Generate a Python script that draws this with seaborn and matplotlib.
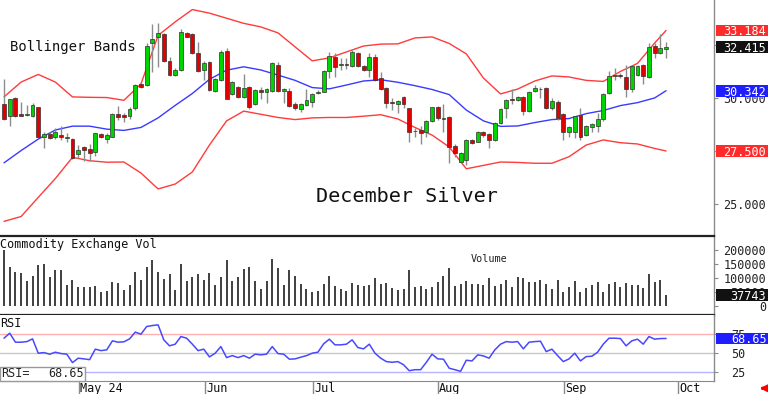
import numpy as np
import matplotlib
matplotlib.use("Agg")
import matplotlib.pyplot as plt
import matplotlib.transforms as mtransforms
from matplotlib.patches import Rectangle
import seaborn as sns

# daily candles, December silver (one entry per trading day)
opens = [29.72, 29.15, 29.99, 29.24, 29.20, 29.15, 29.56, 28.15, 28.29, 28.17,
         28.25, 28.12, 28.05, 27.36, 27.69, 27.59, 27.47, 28.32, 28.07, 28.17,
         29.25, 29.18, 29.15, 29.51, 30.66, 30.61, 32.58, 32.89, 33.02, 31.75,
         31.08, 31.32, 33.05, 33.00, 32.14, 31.32, 31.71, 30.34, 30.85, 32.23,
         30.19, 30.53, 30.06, 30.53, 29.70, 30.38, 30.30, 30.34, 31.56, 30.34,
         30.34, 29.70, 29.47, 29.67, 29.83, 30.22, 30.30, 31.27, 31.92, 31.54,
         31.58, 31.52, 32.14, 31.52, 31.32, 31.95, 30.93, 30.46, 29.83, 29.72,
         30.06, 29.51, 28.42, 28.49, 28.41, 28.93, 29.59, 29.02, 29.12, 27.75,
         27.00, 27.08, 28.02, 27.94, 28.41, 28.30, 28.02, 28.81, 29.55, 29.95,
         29.91, 30.06, 29.40, 30.34, 30.41, 30.46, 29.51, 29.83, 29.25, 28.38,
         28.40, 29.20, 28.25, 28.65, 28.68, 29.00, 30.22, 31.02, 31.06, 31.00,
         30.41, 31.08, 31.56, 30.98, 32.45, 32.11, 32.30]
highs = [30.88, 29.96, 30.03, 29.83, 29.67, 29.75, 29.59, 28.41, 28.41, 28.57,
         28.68, 28.36, 28.10, 27.78, 27.74, 27.83, 28.36, 28.36, 28.36, 29.28,
         29.62, 29.31, 29.59, 30.65, 30.77, 32.61, 33.48, 33.52, 33.08, 31.95,
         31.40, 33.24, 33.13, 33.08, 32.66, 31.75, 31.75, 30.93, 32.26, 32.37,
         30.80, 30.58, 31.12, 30.58, 30.42, 30.50, 30.45, 31.71, 31.70, 30.45,
         30.45, 29.83, 29.78, 30.41, 30.24, 30.36, 31.31, 32.18, 32.11, 31.87,
         31.87, 32.26, 32.18, 31.56, 32.11, 32.05, 31.24, 30.50, 29.98, 29.90,
         30.10, 29.55, 28.57, 28.68, 28.97, 29.59, 29.62, 29.72, 29.16, 27.83,
         27.43, 28.06, 28.06, 28.45, 28.45, 28.35, 28.85, 29.51, 29.96, 30.41,
         30.10, 30.10, 30.34, 30.61, 30.52, 30.50, 29.98, 29.91, 29.28, 28.66,
         29.16, 29.51, 28.72, 28.81, 29.28, 30.23, 31.27, 31.43, 31.16, 31.56,
         31.55, 31.56, 31.60, 32.61, 32.61, 33.00, 32.66]
lows = [28.95, 28.68, 29.12, 29.15, 29.15, 29.12, 28.16, 27.66, 28.05, 28.05,
        28.02, 27.94, 27.14, 27.16, 27.03, 27.03, 27.26, 28.10, 27.89, 28.15,
        28.96, 28.88, 29.00, 29.43, 30.46, 30.57, 31.24, 31.48, 31.71, 31.04,
        31.04, 31.29, 32.86, 32.08, 31.24, 30.85, 30.33, 30.30, 30.80, 29.94,
        30.15, 30.02, 29.99, 29.47, 29.66, 29.95, 29.76, 30.30, 30.30, 29.75,
        29.58, 29.43, 29.36, 29.62, 29.57, 30.17, 30.26, 30.93, 31.00, 31.32,
        31.36, 31.48, 31.47, 31.28, 31.00, 30.80, 30.38, 29.51, 29.43, 29.28,
        29.51, 27.94, 28.15, 27.83, 28.17, 28.88, 28.98, 28.41, 26.92, 27.23,
        26.96, 26.84, 27.82, 27.90, 28.16, 27.63, 27.98, 28.77, 29.06, 29.72,
        29.85, 29.20, 29.36, 30.30, 29.98, 29.47, 29.43, 28.96, 28.02, 28.15,
        28.13, 28.02, 28.21, 28.41, 28.41, 28.90, 30.18, 30.85, 30.92, 30.03,
        30.30, 31.04, 30.66, 30.94, 31.87, 32.07, 31.87]
closes = [29.00, 29.94, 29.15, 29.17, 29.25, 29.67, 28.17, 28.30, 28.10, 28.40,
          28.17, 28.14, 27.17, 27.55, 27.53, 27.42, 28.33, 28.15, 28.25, 29.25,
          29.09, 29.09, 29.47, 30.61, 30.50, 32.45, 32.78, 33.05, 31.75, 31.08,
          31.32, 33.10, 32.89, 32.11, 31.29, 31.67, 30.38, 30.88, 32.18, 29.95,
          30.75, 30.06, 30.46, 29.59, 30.38, 30.28, 30.41, 31.67, 30.34, 30.41,
          29.62, 29.51, 29.70, 29.91, 30.19, 30.30, 31.27, 31.98, 31.48, 31.58,
          31.54, 32.18, 31.51, 31.32, 31.95, 30.85, 30.41, 29.78, 29.75, 29.86,
          29.72, 28.41, 28.46, 28.33, 28.93, 29.56, 29.04, 29.06, 27.70, 27.39,
          27.39, 28.02, 27.86, 28.41, 28.25, 28.02, 28.81, 29.47, 29.91, 29.90,
          30.03, 29.40, 30.30, 30.46, 30.43, 29.51, 29.86, 29.04, 28.41, 28.62,
          29.15, 28.17, 28.68, 28.77, 29.00, 30.19, 31.04, 31.06, 31.02, 30.41,
          31.51, 31.51, 31.04, 32.42, 32.14, 32.34, 32.415]

volume = [202000, 140000, 123000, 117000, 88000, 109000, 146000, 150000, 103000, 130000,
          128000, 76000, 93000, 66000, 68000, 68000, 70000, 51000, 54000, 86000,
          81000, 58000, 74000, 121000, 93000, 139000, 165000, 123000, 98000, 113000,
          58000, 152000, 91000, 103000, 115000, 94000, 119000, 76000, 104000, 164000,
          88000, 104000, 134000, 140000, 91000, 60000, 91000, 168000, 135000, 76000,
          130000, 107000, 79000, 60000, 48000, 54000, 79000, 106000, 72000, 60000,
          54000, 81000, 74000, 72000, 74000, 101000, 79000,
          82000, 64000, 58000, 60000, 128000, 66000, 70000, 60000, 68000, 85000,
          107000, 135000, 70000, 79000, 88000, 79000, 79000, 74000, 101000, 70000,
          79000, 94000, 66000, 103000, 101000, 85000, 85000, 94000, 79000, 61000,
          94000, 48000, 66000, 91000, 51000, 64000, 76000, 85000, 51000, 79000,
          85000, 66000, 82000, 76000, 74000, 64000, 115000, 85000, 94000, 37743]

rsi = [69.0, 75.6, 63.7, 63.7, 64.5, 68.1, 49.2, 50.0, 47.9, 50.5,
       48.7, 47.9, 36.8, 42.6, 41.7, 40.7, 54.5, 52.6, 53.6, 65.5,
       63.7, 64.2, 68.1, 77.0, 74.3, 84.4, 85.7, 86.6, 66.8, 58.9,
       61.1, 71.2, 69.0, 61.1, 52.6, 54.5, 44.3, 49.2, 57.9, 43.4,
       46.0, 43.4, 46.0, 42.6, 47.9, 47.0, 47.9, 57.9, 48.7, 47.9,
       41.3, 41.7, 43.9, 46.0, 49.2, 50.5, 61.5, 67.7, 60.2, 60.2,
       61.1, 66.8, 56.6, 54.9, 61.1, 49.2, 42.6,
       38.1, 37.2, 38.1, 34.0, 26.1, 27.4, 27.4, 37.2, 47.9, 41.7,
       41.3, 29.4, 27.4, 25.3, 39.9, 39.0, 47.0, 45.6, 42.6, 53.6,
       61.1, 64.5, 63.7, 64.5, 54.9, 63.7, 64.5, 65.0, 51.3, 54.5,
       46.0, 38.1, 41.7, 49.2, 39.0, 44.7, 45.2, 50.5, 61.1, 69.0,
       69.0, 68.5, 58.9, 65.5, 67.7, 61.1, 71.2, 67.7, 68.5, 68.65]

# bollinger bands, read every third bar
band_idx = [0, 3, 6, 9, 12, 15, 18, 21, 24, 27, 30, 33, 36, 39, 42, 45, 48, 51, 54, 57,
            60, 63, 66, 69, 72, 75, 78, 81, 84, 87, 90, 93, 96, 99, 102, 105, 108, 111, 114, 116]
bb_upper = [30.05, 30.75, 31.11, 30.75, 30.05, 30.03, 30.02, 29.89, 30.66, 32.95,
            33.59, 34.17, 34.00, 33.76, 33.52, 33.35, 33.07, 32.41, 31.75, 31.89,
            32.17, 32.45, 32.54, 32.55, 32.83, 32.88, 32.57, 32.08, 30.94, 30.19,
            30.42, 30.80, 31.04, 30.99, 30.83, 30.78, 31.25, 31.63, 32.59, 33.184]
bb_mid = [26.94, 27.52, 28.06, 28.49, 28.67, 28.67, 28.53, 28.47, 28.61, 29.06,
          29.65, 30.21, 30.88, 31.31, 31.47, 31.32, 31.08, 30.83, 30.49, 30.43,
          30.61, 30.80, 30.86, 30.74, 30.58, 30.40, 30.16, 29.43, 28.92, 28.66,
          28.68, 28.84, 28.98, 29.03, 29.26, 29.41, 29.64, 29.78, 30.00, 30.342]
bb_lower = [24.18, 24.41, 25.31, 26.20, 27.20, 27.04, 26.97, 26.98, 26.46, 25.71,
            25.94, 26.51, 27.78, 28.92, 29.38, 29.23, 29.08, 28.98, 29.06, 29.08,
            29.08, 29.14, 29.21, 29.01, 28.61, 28.25, 27.69, 26.66, 26.82, 26.98,
            26.96, 26.92, 26.92, 27.23, 27.78, 28.02, 27.89, 27.83, 27.62, 27.50]

month_pos = [13.1, 35.2, 54.1, 76.0, 98.1, 118.1]
month_labels = ["May 24", "Jun", "Jul", "Aug", "Sep", "Oct"]

price_ticks = [25.0, 30.0]
vol_ticks = [0, 50000, 100000, 150000, 200000]
rsi_ticks = [25, 50, 75]

sns.set_style("white")
plt.rcParams["font.family"] = ["DejaVu Sans Mono", "DejaVu Sans"]

W, H = 768, 394
fig = plt.figure(figsize=(W / 100, H / 100), dpi=100)


def px_axes(x0, y0, x1, y1):
    return fig.add_axes([x0 / W, 1 - y1 / H, (x1 - x0) / W, (y1 - y0) / H])


ax_p = px_axes(0, 0, 714, 236)
ax_v = px_axes(0, 236, 714, 315)
ax_r = px_axes(0, 315, 714, 380.7)

ax_p.set_ylim(23.49, 34.62)
ax_v.set_ylim(-34200, 252600)
ax_r.set_ylim(12.9, 99.6)

GRID = "#8a8a8a"
for ax in (ax_p, ax_v, ax_r):
    ax.set_xlim(-0.7, 124.4)
    ax.set_facecolor("white")
    for s in ("left", "top", "bottom"):
        ax.spines[s].set_visible(False)
    ax.spines["right"].set_color(GRID)
    ax.spines["right"].set_linewidth(1)
    ax.tick_params(axis="y", which="both", direction="out", length=3, width=0.8,
                   color=GRID, left=False, right=True, labelleft=False, labelright=False)
    ax.tick_params(axis="x", bottom=False, labelbottom=False)

ax_v.spines["top"].set_visible(True)
ax_v.spines["bottom"].set_visible(True)
for s in ("top", "bottom"):
    ax_v.spines[s].set_color("#222222")
    ax_v.spines[s].set_linewidth(1.6)
ax_r.spines["bottom"].set_visible(True)
ax_r.spines["bottom"].set_color(GRID)

# --- price panel: candles + bands
idx = np.arange(len(closes))
o, h, l, c = (np.array(a) for a in (opens, highs, lows, closes))
up = c >= o
sns.lineplot(x=band_idx, y=bb_upper, ax=ax_p, color="#ff3b3b", linewidth=1, zorder=1)
sns.lineplot(x=band_idx, y=bb_lower, ax=ax_p, color="#ff3b3b", linewidth=1, zorder=1)
sns.lineplot(x=band_idx, y=bb_mid, ax=ax_p, color="#3a3aff", linewidth=1, zorder=1)
ax_p.vlines(idx, l, h, color="#8c8c8c", linewidth=1, zorder=2)
ax_p.bar(idx, np.maximum(np.abs(c - o), 0.03), bottom=np.minimum(o, c), width=0.68,
         color=np.where(up, "#00d400", "#e00000"), edgecolor="#303030", linewidth=0.5, zorder=3)
ax_p.set_yticks([25.0, 27.5, 30.0, 32.5])
ax_p.set_xlabel("")
ax_p.set_ylabel("")

ax_p.text(10 / 714, 0.784, "Bollinger Bands", transform=ax_p.transAxes, fontsize=10,
          va="baseline", color="#111111")
ax_p.text(316 / 714, 0.145, "December Silver", transform=ax_p.transAxes, fontsize=14.5,
          va="baseline", color="#111111")

# --- volume panel
ax_v.vlines(idx, 0, volume, color="#303030", linewidth=1.3)
ax_v.set_yticks(vol_ticks)
ax_v.text(0, 0.852, "Commodity Exchange Vol", transform=ax_v.transAxes, fontsize=8.5,
          va="baseline", color="#111111")
ax_v.text(470.7 / 714, 0.675, "Volume", transform=ax_v.transAxes, fontsize=7.3,
          va="baseline", color="#222222")

# --- RSI panel
ax_r.axhline(75, color="#ffb0b0", linewidth=1, zorder=1)
ax_r.axhline(50, color="#c8c8c8", linewidth=1, zorder=1)
ax_r.axhline(25, color="#b4b4ff", linewidth=1, zorder=1)
sns.lineplot(x=idx, y=rsi, ax=ax_r, color="#4848ff", linewidth=1.1, zorder=2)
ax_r.set_yticks(rsi_ticks)
ax_r.set_xlabel("")
ax_r.set_ylabel("")
ax_r.text(0, 0.813, "RSI", transform=ax_r.transAxes, fontsize=8.5, va="baseline", color="#111111")
ax_r.add_patch(Rectangle((0, 0), 85 / 714, 0.2085, transform=ax_r.transAxes, facecolor="white",
                         edgecolor="#9a9a9a", linewidth=1, zorder=4, clip_on=False))
ax_r.text(0.002, 0.061, "RSI=", transform=ax_r.transAxes, fontsize=8.5, va="baseline", zorder=5)
ax_r.text(84 / 714, 0.061, f"{rsi[-1]:.2f}", transform=ax_r.transAxes, fontsize=8.5,
          va="baseline", ha="right", zorder=5)

# month ticks below the RSI panel
ax_r.set_xticks(month_pos)
ax_r.tick_params(axis="x", bottom=True, direction="out", length=9.4, width=1, color=GRID,
                 labelbottom=False)
lab_tr = mtransforms.blended_transform_factory(ax_r.transData, ax_r.transAxes) + \
    mtransforms.ScaledTranslation(1.5 / 100, 0, fig.dpi_scale_trans)
for pos, lab in zip(month_pos, month_labels):
    ax_r.text(pos, -0.167, lab, transform=lab_tr, fontsize=8.5, va="baseline", ha="left",
              color="#111111", clip_on=False)


# --- right-hand scale labels and value tags
def right_text(ax, y, text, x=766, ha="right", color="#222222", z=3):
    tr = mtransforms.blended_transform_factory(fig.transFigure, ax.transData)
    ax.text(x / W, y, text, transform=tr, ha=ha, va="center_baseline", fontsize=8.5,
            color=color, clip_on=False, zorder=z)


def tag(ax, y, text, color, x=766, ha="right"):
    tr = mtransforms.blended_transform_factory(fig.transFigure, ax.transData)
    lo, hi = ax.get_ylim()
    hh = 5.9 * (hi - lo) / (ax.get_position().height * H)
    ax.add_patch(Rectangle((716 / W, y - hh), 52 / W, 2 * hh, transform=tr, facecolor=color,
                           edgecolor="none", clip_on=False, zorder=5))
    right_text(ax, y, text, x=x, ha=ha, color="white", z=6)


for v in price_ticks:
    right_text(ax_p, v, f"{v:.3f}")
tag(ax_p, bb_upper[-1], f"{bb_upper[-1]:.3f}", "#ff2a2a")
tag(ax_p, closes[-1], f"{closes[-1]:.3f}", "#111111")
tag(ax_p, bb_mid[-1], f"{bb_mid[-1]:.3f}", "#1e1eff")
tag(ax_p, bb_lower[-1], f"{bb_lower[-1]:.3f}", "#ff2a2a")

for v in vol_ticks:
    right_text(ax_v, v, f"{v}")
tag(ax_v, volume[-1], f"{volume[-1]}", "#111111")

for v in rsi_ticks:
    right_text(ax_r, v, f"{v}", x=731, ha="left")
tag(ax_r, rsi[-1], f"{rsi[-1]:.2f}", "#1e1eff", x=731, ha="left")

# small red arrow bottom right
ax_r.annotate("", xy=(757, 5.7), xytext=(767, 5.7), xycoords="figure pixels",
              textcoords="figure pixels", annotation_clip=False,
              arrowprops=dict(arrowstyle="-|>", color="#ff0000", lw=2.2, mutation_scale=9))

fig.savefig("out.png", dpi=100)
